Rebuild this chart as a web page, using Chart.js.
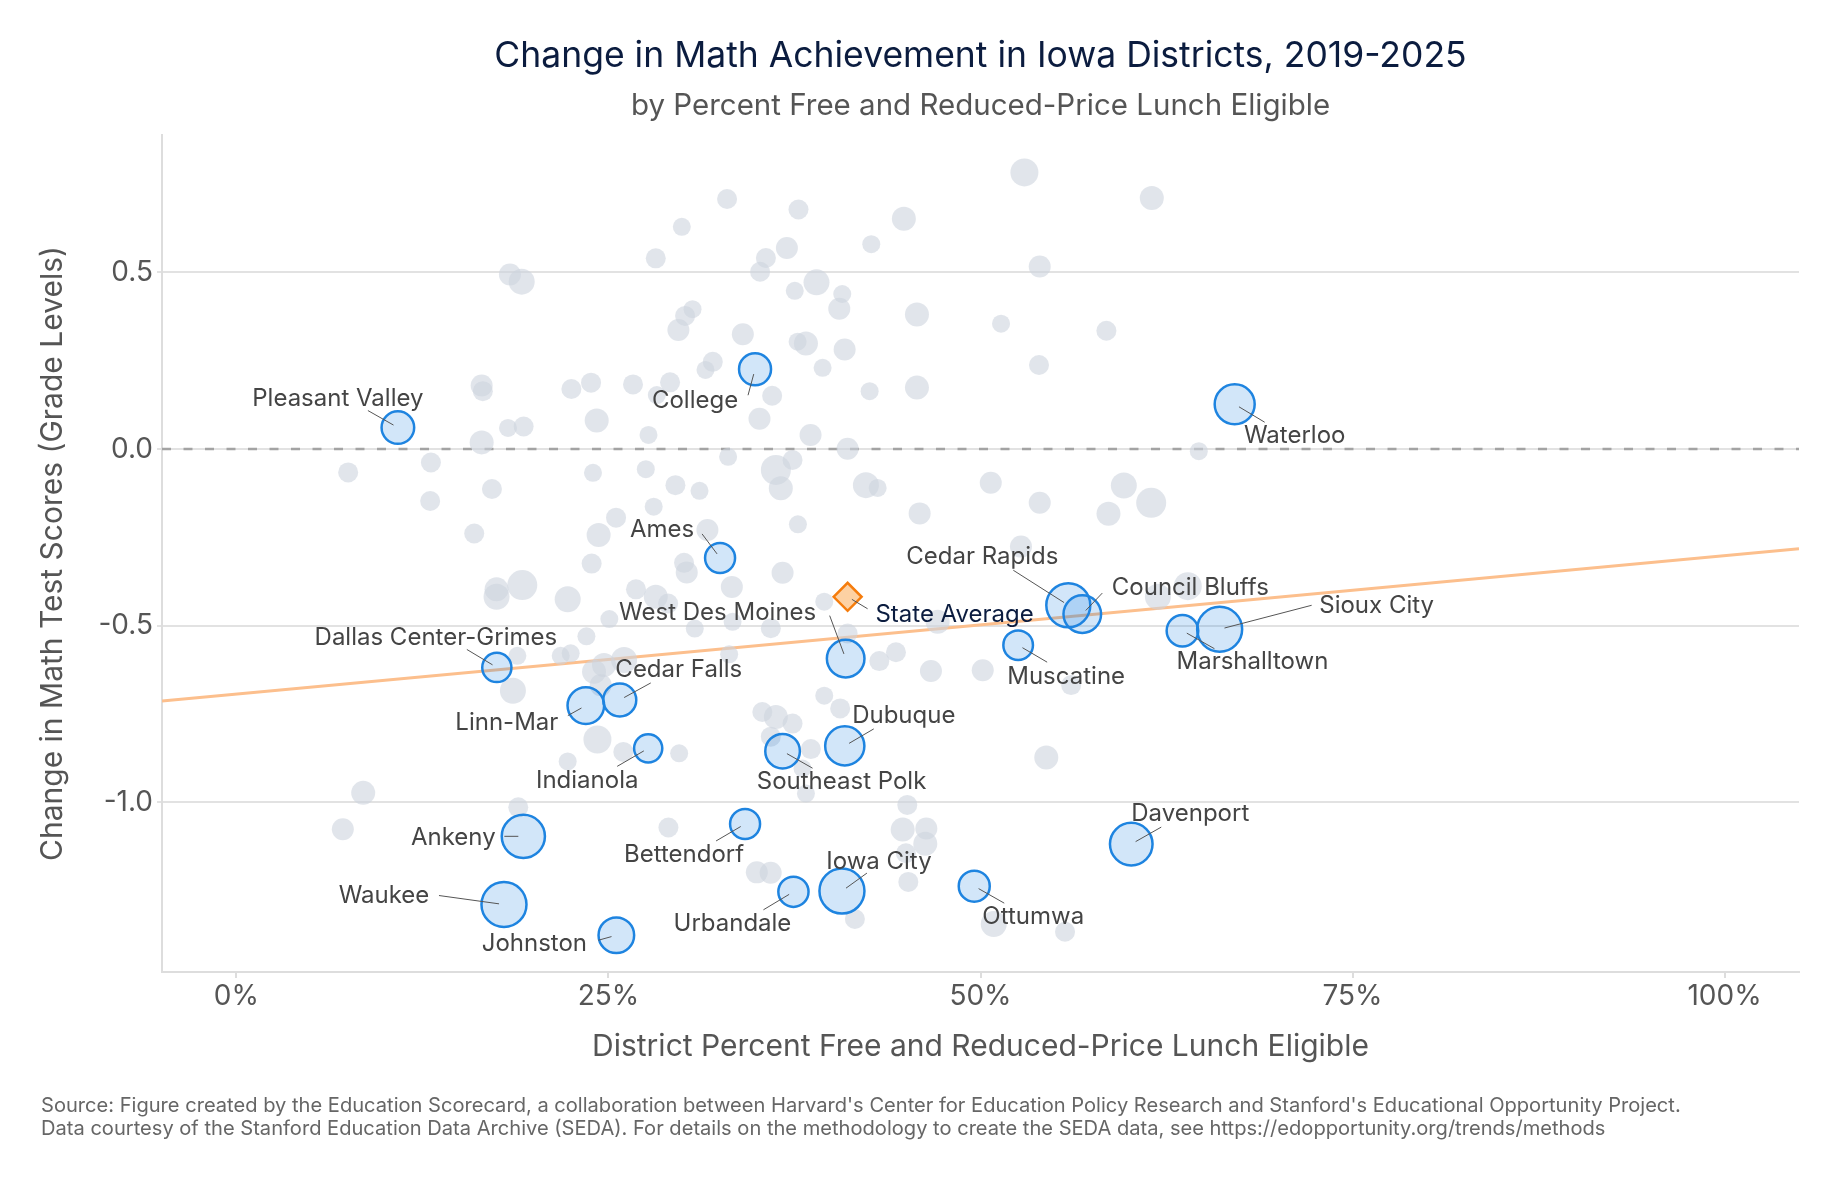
<!DOCTYPE html>
<html>
<head>
<meta charset="utf-8">
<script src="https://cdn.jsdelivr.net/npm/chart.js@4.4.1/dist/chart.umd.min.js"></script>
<style>
  html, body { margin: 0; padding: 0; background: #fff; }
  #wrap { position: relative; width: 1841px; height: 1182px; font-family: Inter, sans-serif; }
  #wrap canvas { position: absolute; left: 0; top: 0; }
  .title { position: absolute; left: 162px; width: 1637px; text-align: center; white-space: nowrap; }
  #t1 { top: 35px; font-size: 35.5px; line-height: 40px; color: #0b1c3f; }
  #t2 { top: 87px; font-size: 29.5px; line-height: 34px; color: #555; }
  #foot { position: absolute; left: 41px; top: 1094px; font-size: 20.1px; line-height: 23px; color: #666; white-space: nowrap; }
</style>
</head>
<body>
<div id="wrap">
  <canvas id="chart" width="1841" height="1182"></canvas>
  <div class="title" id="t1">Change in Math Achievement in Iowa Districts, 2019-2025</div>
  <div class="title" id="t2">by Percent Free and Reduced-Price Lunch Eligible</div>
  <div id="foot">Source: Figure created by the Education Scorecard, a collaboration between Harvard's Center for Education Policy Research and Stanford's Educational Opportunity Project.<br>Data courtesy of the Stanford Education Data Archive (SEDA). For details on the methodology to create the SEDA data, see https://edopportunity.org/trends/methods</div>
</div>
<script>
// labelled districts: % free/reduced lunch, change in grade levels, bubble size
const districtNames = ["Pleasant Valley","College","Waterloo","Ames","Cedar Rapids","Council Bluffs","Sioux City","Marshalltown",
  "Muscatine","West Des Moines","Dallas Center-Grimes","Cedar Falls","Linn-Mar","Indianola","Dubuque","Southeast Polk",
  "Ankeny","Bettendorf","Davenport","Iowa City","Urbandale","Ottumwa","Waukee","Johnston"];
const districtX = [10.85,34.85,67.08,32.5,55.9,56.84,66.07,63.57,52.53,40.94,17.5,25.76,23.48,27.67,40.88,36.7,
  19.28,34.18,60.13,40.69,37.43,49.58,17.98,25.53];
const districtY = [0.061,0.226,0.127,-0.308,-0.442,-0.467,-0.51,-0.514,-0.555,-0.593,-0.618,-0.71,-0.726,-0.847,-0.84,-0.855,
  -1.096,-1.061,-1.118,-1.251,-1.253,-1.237,-1.289,-1.376];
const districtR = [16.3,16,20,15,22,18.8,22.5,15.8,14.8,18.8,14.6,16.5,18.3,14.1,19.6,17.3,
  21.6,15,21.3,22.5,15.1,15.5,22.5,17.8];

// all other districts
const grayX = [32.97,29.93,28.18,35.58,35.19,18.38,19.17,30.65,30.15,29.7,34.03,32.01,31.52,16.48,16.56,22.51,23.83,26.65,29.14,28.25,
  36.0,24.21,35.15,18.25,19.3,27.69,16.48,33.04,7.51,13.07,23.96,27.51,29.5,31.12,17.17,13.02,28.04,25.51,24.34,15.98,
  31.65,23.87,30.08,30.26,
  52.95,61.51,37.77,44.85,42.66,36.99,53.98,38.98,37.52,40.71,40.51,45.73,51.38,58.46,37.71,38.27,40.87,39.39,53.93,42.55,
  45.73,38.58,41.07,64.67,37.37,36.25,36.58,42.3,43.09,50.69,59.63,61.47,53.98,58.6,45.91,37.73,52.72,63.93,61.92,
  19.21,17.48,17.48,22.26,26.85,28.18,29.01,33.29,25.06,30.8,33.34,23.52,18.88,21.79,22.46,33.11,26.05,24.7,24.03,18.58,
  24.48,24.26,26.0,22.26,29.75,8.52,7.15,18.94,29.03,34.97,35.9,
  36.7,39.5,35.91,41.07,43.2,44.32,46.67,50.15,47.12,56.09,39.5,40.57,37.37,36.25,35.34,35.91,38.6,38.27,38.04,54.42,
  45.08,44.77,46.36,46.29,44.99,45.15,41.56,50.89,55.68];
const grayY = [0.708,0.629,0.54,0.541,0.502,0.494,0.474,0.396,0.377,0.337,0.325,0.247,0.224,0.18,0.164,0.17,0.188,0.183,0.189,0.153,
  0.151,0.081,0.086,0.06,0.064,0.04,0.019,-0.022,-0.066,-0.038,-0.067,-0.057,-0.102,-0.118,-0.113,-0.147,-0.163,-0.194,-0.243,-0.239,
  -0.229,-0.324,-0.322,-0.349,
  0.783,0.711,0.678,0.652,0.58,0.569,0.517,0.472,0.448,0.439,0.397,0.381,0.355,0.335,0.304,0.299,0.282,0.23,0.238,0.164,
  0.174,0.04,0.001,-0.006,-0.031,-0.059,-0.111,-0.102,-0.11,-0.095,-0.103,-0.152,-0.152,-0.183,-0.182,-0.213,-0.276,-0.388,-0.418,
  -0.385,-0.397,-0.418,-0.425,-0.397,-0.418,-0.437,-0.39,-0.481,-0.508,-0.489,-0.53,-0.585,-0.585,-0.578,-0.581,-0.597,-0.611,-0.63,-0.684,
  -0.668,-0.822,-0.857,-0.884,-0.861,-0.973,-1.076,-1.014,-1.071,-1.198,-1.199,
  -0.35,-0.432,-0.507,-0.522,-0.6,-0.575,-0.628,-0.626,-0.489,-0.668,-0.698,-0.734,-0.777,-0.758,-0.744,-0.814,-0.849,-0.975,-0.904,-0.873,
  -1.007,-1.077,-1.074,-1.117,-1.144,-1.225,-1.33,-1.344,-1.366];
const grayR = [10,9,10,10,10,11,13,9,10,11,11,10,9,11,10,10,10,10,10,9,
  10,12,11,9,10,9,12,9,10,10,9,9,10,9,10,10,9,10,12,10,
  11,10,10,11,
  14,12,10,12,9,11,11,13,9,9,11,12,9,10,9,12,11,9,10,9,
  12,11,11,9,10,15,12,13,9,11,13,15,11,12,11,9,11,14,13,
  15,12,13,13,10,12,10,11,9,9,9,9,9,9,9,9,13,12,12,13,
  11,14,10,9,9,12,11,10,10,11,11,
  11,9,10,10,10,10,11,11,12,10,9,10,10,12,10,10,10,9,9,12,
  10,12,11,12,10,10,10,13,10];

const stateX = 41.07;
const stateY = -0.418;

// fitted line across the x range
const trendX = [-5, 105];
const trendY = [-0.713, -0.282];

const xTicks = [0, 25, 50, 75, 100];
const yTicks = [-1.0, -0.5, 0.0, 0.5];

// label placement: [text dx, text dy, leader end dx, leader end dy] in px from the point
const labelLayout = {
  "Pleasant Valley": [-60, -29, -30, -17],
  "College": [-60, 32, -7, 26],
  "Waterloo": [60, 32, 30, 18],
  "Ames": [-58, -28, -18, -24],
  "Cedar Rapids": [-86, -48, -55, -35],
  "Council Bluffs": [108, -26, 20, -21],
  "State Average": [107, 18, 20, 12],
  "Sioux City": [157, -24, 92, -24],
  "Marshalltown": [70, 31, 32, 18],
  "Muscatine": [48, 32, 29, 17],
  "West Des Moines": [-128, -46, -16, -43],
  "Dallas Center-Grimes": [-61, -30, -30, -18],
  "Cedar Falls": [59, -30, 31, -17],
  "Linn-Mar": [-79, 17, -18, 10],
  "Indianola": [-61, 32, -31, 18],
  "Dubuque": [59, -30, 29, -17],
  "Southeast Polk": [59, 31, 30, 17],
  "Ankeny": [-70, 1, -19, 0],
  "Bettendorf": [-61, 31, -29, 17],
  "Davenport": [59, -30, 30, -17],
  "Iowa City": [37, -29, 25, -18],
  "Urbandale": [-61, 32, -30, 18],
  "Ottumwa": [59, 31, 30, 17],
  "Waukee": [-120, -9, -65, -9],
  "Johnston": [-82, 9, -18, 5]
};

Chart.defaults.font.family = "Inter, sans-serif";
Chart.defaults.color = "#555";

const zeroLine = {
  id: "zeroLine",
  beforeDatasetsDraw(chart) {
    const { ctx, chartArea: a, scales: { y } } = chart;
    const py = y.getPixelForValue(0);
    ctx.save();
    ctx.strokeStyle = "#a3a3a3";
    ctx.lineWidth = 2.5;
    ctx.setLineDash([9, 12.5]);
    ctx.beginPath();
    ctx.moveTo(a.left, py);
    ctx.lineTo(a.right, py);
    ctx.stroke();
    ctx.restore();
  }
};

const districtLabels = {
  id: "districtLabels",
  afterDatasetsDraw(chart) {
    const { ctx, scales: { x, y } } = chart;
    const items = districtNames.map((n, i) => [n, districtX[i], districtY[i], "#444"]);
    items.push(["State Average", stateX, stateY, "#0b1c3f"]);
    ctx.save();
    ctx.font = "24px Inter, sans-serif";
    ctx.textAlign = "center";
    ctx.textBaseline = "middle";
    items.forEach(([name, vx, vy, color]) => {
      const [dx, dy, lx, ly] = labelLayout[name];
      const px = x.getPixelForValue(vx), py = y.getPixelForValue(vy);
      const len = Math.hypot(lx, ly) || 1;
      ctx.strokeStyle = "#555";
      ctx.lineWidth = 1;
      ctx.beginPath();
      ctx.moveTo(px + lx / len * 5, py + ly / len * 5);
      ctx.lineTo(px + lx, py + ly);
      ctx.stroke();
      ctx.fillStyle = color;
      ctx.fillText(name, px + dx, py + dy);
    });
    ctx.restore();
  }
};

new Chart(document.getElementById("chart"), {
  type: "bubble",
  data: {
    datasets: [
      { type: "line", label: "Trend", data: trendX.map((v, i) => ({ x: v, y: trendY[i] })),
        borderColor: "#fcbf8d", borderWidth: 3, pointRadius: 0, fill: false, order: 4 },
      { label: "Other districts", data: grayX.map((v, i) => ({ x: v, y: grayY[i], r: grayR[i] })),
        backgroundColor: "rgba(205,212,222,0.6)", borderWidth: 0, order: 3 },
      { label: "Districts", data: districtX.map((v, i) => ({ x: v, y: districtY[i], r: districtR[i] })),
        backgroundColor: "rgba(30,130,225,0.2)", borderColor: "#1e84e0", borderWidth: 2.5, order: 2 },
      { type: "scatter", label: "State Average", data: [{ x: stateX, y: stateY }],
        pointStyle: "rectRot", pointRadius: 14, backgroundColor: "#fdd1a3", borderColor: "#f57c0c", borderWidth: 2.5, order: 1 }
    ]
  },
  options: {
    responsive: false,
    animation: false,
    events: [],
    layout: { padding: { top: 135, right: 42, bottom: 0, left: 0 } },
    plugins: { legend: { display: false }, tooltip: { enabled: false } },
    scales: {
      x: {
        type: "linear", min: -5, max: 105,
        afterBuildTicks: s => { s.ticks = xTicks.map(v => ({ value: v })); },
        afterFit: s => { s.height = 210; },
        ticks: { font: { size: 28 }, color: "#555", padding: 2, maxRotation: 0, callback: v => v + "%" },
        grid: { drawOnChartArea: false, drawTicks: true, tickLength: 6, color: "#ddd", lineWidth: 2 },
        border: { color: "#ddd", width: 2 },
        title: { display: true, text: "District Percent Free and Reduced-Price Lunch Eligible",
          font: { size: 30 }, color: "#555", padding: { top: 0, bottom: 117 } }
      },
      y: {
        type: "linear", min: -1.48, max: 0.889,
        afterBuildTicks: s => { s.ticks = yTicks.map(v => ({ value: v })); },
        afterFit: s => { s.width = 162; },
        ticks: { font: { size: 28 }, color: "#555", padding: 4, callback: v => v.toFixed(1) },
        grid: { color: "#e2e2e2", lineWidth: 2, tickLength: 5 },
        border: { color: "#ddd", width: 2 },
        title: { display: true, text: "Change in Math Test Scores (Grade Levels)",
          font: { size: 30 }, color: "#555", padding: { top: 35, bottom: 0 } }
      }
    }
  },
  plugins: [zeroLine, districtLabels]
});
</script>
</body>
</html>
